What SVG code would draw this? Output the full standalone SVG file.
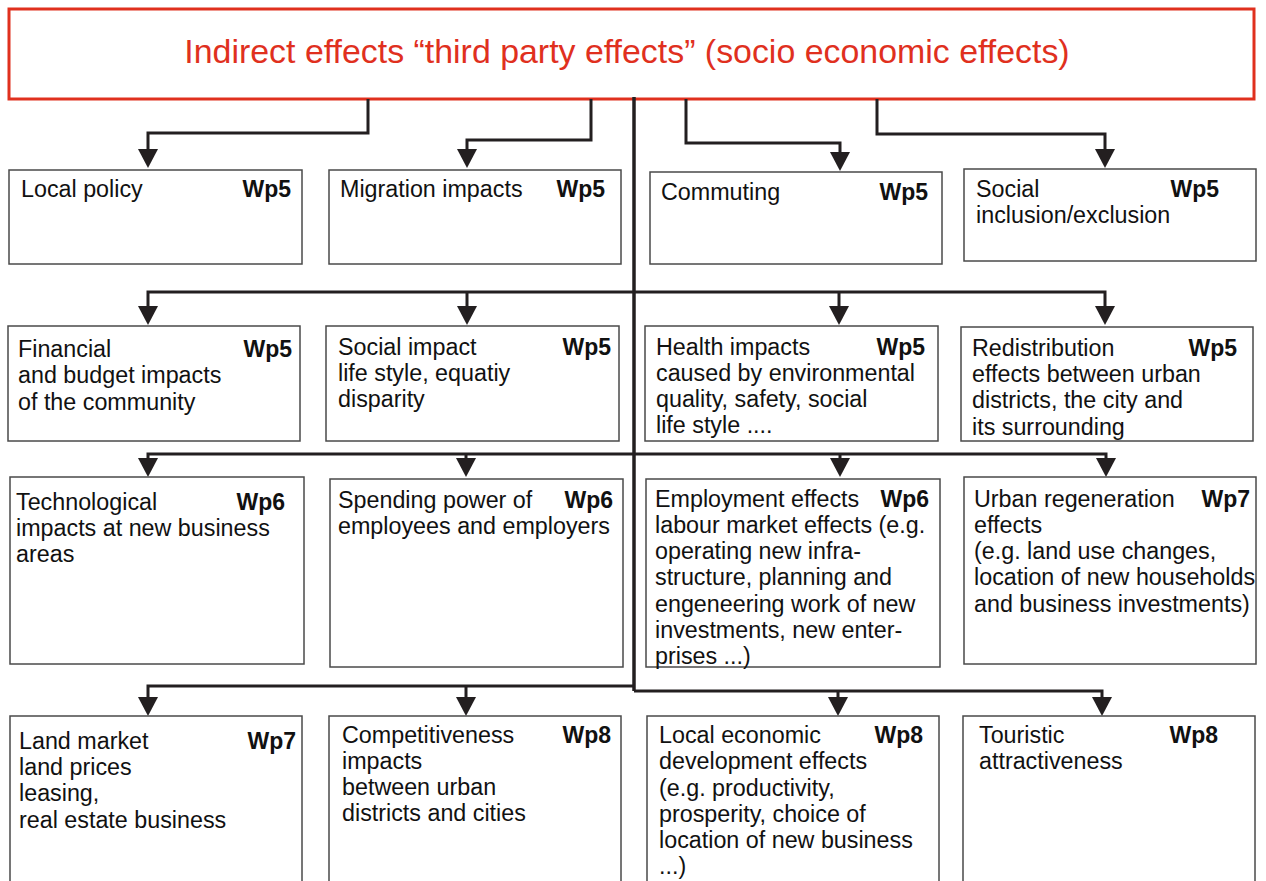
<svg xmlns="http://www.w3.org/2000/svg" width="1266" height="881" viewBox="0 0 1266 881">
<defs>
<marker id="arr" markerUnits="userSpaceOnUse" viewBox="0 0 19 20" refX="0" refY="10" markerWidth="19" markerHeight="20" orient="auto">
<path d="M0,0 L19,10 L0,20 z" fill="#231f20"/>
</marker>
<style>
.box{fill:#fff;stroke:#4a4a4a;stroke-width:1.5}
.t{font-family:"Liberation Sans",Arial,sans-serif;font-size:23.3px;fill:#111}
.wp{font-family:"Liberation Sans",Arial,sans-serif;font-size:23px;font-weight:bold;fill:#111;text-anchor:end}
.c{fill:none;stroke:#231f20;stroke-width:3}
.title{font-family:"Liberation Sans",Arial,sans-serif;font-size:33.9px;fill:#e0301e;text-anchor:middle}
</style>
</defs>
<rect width="1266" height="881" fill="#fff"/>
<g id="title">
<rect x="9" y="9" width="1245" height="90" fill="#fff" stroke="#e0301e" stroke-width="3"/>
<text class="title" x="627" y="63">Indirect effects “third party effects” (socio economic effects)</text>
</g>
<g id="connectors">
<path class="c" style="stroke-width:3.5" d="M634,97 V691"/>
<path class="c" marker-end="url(#arr)" d="M368,99 V133 H148 V149"/>
<path class="c" marker-end="url(#arr)" d="M591,99 V140 H467 V149"/>
<path class="c" marker-end="url(#arr)" d="M686,99 V143 H840 V152"/>
<path class="c" marker-end="url(#arr)" d="M877,99 V134 H1105 V149"/>
<path class="c" marker-end="url(#arr)" d="M634,292 H148 V306"/>
<path class="c" marker-end="url(#arr)" d="M467,292 V306"/>
<path class="c" marker-end="url(#arr)" d="M634,292 H1105 V306"/>
<path class="c" marker-end="url(#arr)" d="M839,292 V306"/>
<path class="c" marker-end="url(#arr)" d="M634,454 H148 V458"/>
<path class="c" marker-end="url(#arr)" d="M466,454 V458"/>
<path class="c" marker-end="url(#arr)" d="M634,454 H1106 V458"/>
<path class="c" marker-end="url(#arr)" d="M840,454 V458"/>
<path class="c" marker-end="url(#arr)" d="M634,686 H148 V697"/>
<path class="c" marker-end="url(#arr)" d="M466,686 V697"/>
<path class="c" marker-end="url(#arr)" d="M634,691 H1102 V697"/>
<path class="c" marker-end="url(#arr)" d="M838,691 V697"/>
</g>
<g id="n-local-policy">
<rect class="box" x="9" y="170" width="293" height="94"/>
<text class="t" x="21" y="197">Local policy</text>
<text class="wp" x="291" y="197">Wp5</text>
</g>
<g id="n-migration">
<rect class="box" x="329" y="170" width="292" height="94"/>
<text class="t" x="340" y="197">Migration impacts</text>
<text class="wp" x="605" y="197">Wp5</text>
</g>
<g id="n-commuting">
<rect class="box" x="650" y="172" width="292" height="92"/>
<text class="t" x="661" y="200">Commuting</text>
<text class="wp" x="928" y="200">Wp5</text>
</g>
<g id="n-social-inclusion">
<rect class="box" x="964" y="169" width="292" height="92"/>
<text class="t" x="976" y="197">Social</text>
<text class="t" x="976" y="223">inclusion/exclusion</text>
<text class="wp" x="1219" y="197">Wp5</text>
</g>
<g id="n-financial">
<rect class="box" x="8" y="326" width="292" height="115"/>
<text class="t" x="18" y="357">Financial</text>
<text class="t" x="18" y="383">and budget impacts</text>
<text class="t" x="18" y="410">of the community</text>
<text class="wp" x="292" y="357">Wp5</text>
</g>
<g id="n-social-impact">
<rect class="box" x="326" y="326" width="293" height="115"/>
<text class="t" x="338" y="355">Social impact</text>
<text class="t" x="338" y="381">life style, equatiy</text>
<text class="t" x="338" y="407">disparity</text>
<text class="wp" x="611" y="355">Wp5</text>
</g>
<g id="n-health">
<rect class="box" x="645" y="326" width="293" height="115"/>
<text class="t" x="656" y="355">Health impacts</text>
<text class="t" x="656" y="381">caused by environmental</text>
<text class="t" x="656" y="407">quality, safety, social</text>
<text class="t" x="656" y="433">life style ....</text>
<text class="wp" x="925" y="355">Wp5</text>
</g>
<g id="n-redistribution">
<rect class="box" x="961" y="327" width="292" height="114"/>
<text class="t" x="972" y="356">Redistribution</text>
<text class="t" x="972" y="382">effects between urban</text>
<text class="t" x="972" y="408">districts, the city and</text>
<text class="t" x="972" y="435">its surrounding</text>
<text class="wp" x="1237" y="356">Wp5</text>
</g>
<g id="n-technological">
<rect class="box" x="10" y="477" width="294" height="187"/>
<text class="t" x="16" y="510">Technological</text>
<text class="t" x="16" y="536">impacts at new business</text>
<text class="t" x="16" y="562">areas</text>
<text class="wp" x="285" y="510">Wp6</text>
</g>
<g id="n-spending">
<rect class="box" x="330" y="479" width="293" height="188"/>
<text class="t" x="338" y="508">Spending power of</text>
<text class="t" x="338" y="534">employees and employers</text>
<text class="wp" x="613" y="508">Wp6</text>
</g>
<g id="n-employment">
<rect class="box" x="646" y="479" width="294" height="188"/>
<text class="t" x="655" y="507">Employment effects</text>
<text class="t" x="655" y="533">labour market effects (e.g.</text>
<text class="t" x="655" y="559">operating new infra-</text>
<text class="t" x="655" y="585">structure, planning and</text>
<text class="t" x="655" y="612">engeneering work of new</text>
<text class="t" x="655" y="638">investments, new enter-</text>
<text class="t" x="655" y="664">prises ...)</text>
<text class="wp" x="929" y="507">Wp6</text>
</g>
<g id="n-urban">
<rect class="box" x="964" y="477" width="292" height="187"/>
<text class="t" x="974" y="507">Urban regeneration</text>
<text class="t" x="974" y="533">effects</text>
<text class="t" x="974" y="559">(e.g. land use changes,</text>
<text class="t" x="974" y="585">location of new households</text>
<text class="t" x="974" y="612">and business investments)</text>
<text class="wp" x="1250" y="507">Wp7</text>
</g>
<g id="n-land-market">
<rect class="box" x="10" y="716" width="292" height="180"/>
<text class="t" x="19" y="749">Land market</text>
<text class="t" x="19" y="775">land prices</text>
<text class="t" x="19" y="801">leasing,</text>
<text class="t" x="19" y="828">real estate business</text>
<text class="wp" x="296" y="749">Wp7</text>
</g>
<g id="n-competitiveness">
<rect class="box" x="329" y="716" width="292" height="180"/>
<text class="t" x="342" y="743">Competitiveness</text>
<text class="t" x="342" y="769">impacts</text>
<text class="t" x="342" y="795">between urban</text>
<text class="t" x="342" y="821">districts and cities</text>
<text class="wp" x="611" y="743">Wp8</text>
</g>
<g id="n-local-economic">
<rect class="box" x="647" y="716" width="292" height="180"/>
<text class="t" x="659" y="743">Local economic</text>
<text class="t" x="659" y="769">development effects</text>
<text class="t" x="659" y="796">(e.g. productivity,</text>
<text class="t" x="659" y="822">prosperity, choice of</text>
<text class="t" x="659" y="848">location of new business</text>
<text class="t" x="659" y="874">...)</text>
<text class="wp" x="923" y="743">Wp8</text>
</g>
<g id="n-touristic">
<rect class="box" x="963" y="716" width="292" height="180"/>
<text class="t" x="979" y="743">Touristic</text>
<text class="t" x="979" y="769">attractiveness</text>
<text class="wp" x="1218" y="743">Wp8</text>
</g>
</svg>
